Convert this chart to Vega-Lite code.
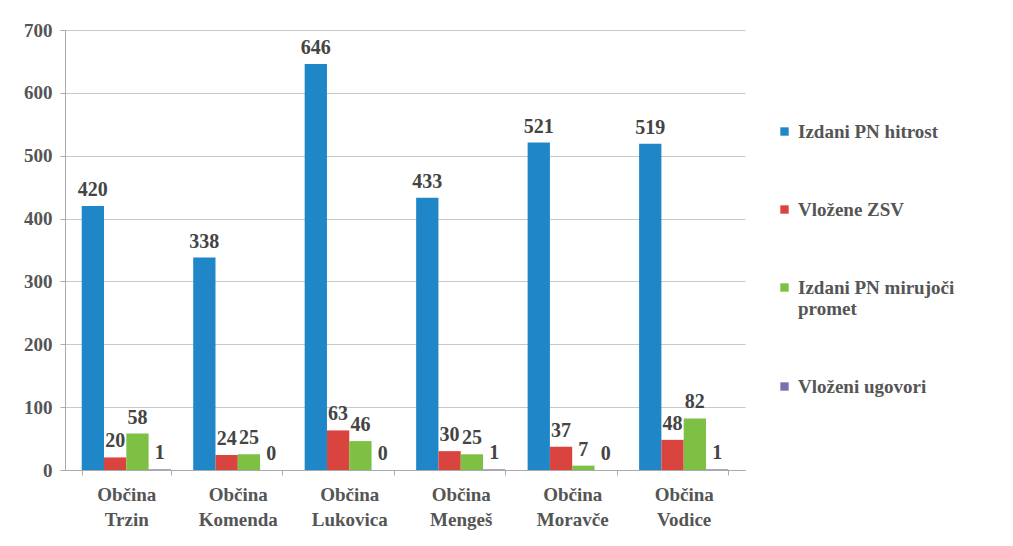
{
  "$schema": "https://vega.github.io/schema/vega-lite/v6.json",
  "width": 680,
  "height": 440,
  "autosize": "none",
  "padding": {"left": 65, "top": 30, "right": 268, "bottom": 76},
  "background": "white",
  "config": {
    "view": {"stroke": null},
    "font": "Times New Roman, Liberation Serif, DejaVu Serif, serif",
    "axis": {"labelFont": "Times New Roman, Liberation Serif, DejaVu Serif, serif", "labelFontWeight": "bold", "labelColor": "#555555"}
  },
  "data": {
    "values": [
      {"obcina": "Občina Trzin", "series": "Izdani PN hitrost", "value": 420},
      {"obcina": "Občina Trzin", "series": "Vložene  ZSV", "value": 20},
      {"obcina": "Občina Trzin", "series": "Izdani PN mirujoči promet", "value": 58},
      {"obcina": "Občina Trzin", "series": "Vloženi ugovori", "value": 1},
      {"obcina": "Občina Komenda", "series": "Izdani PN hitrost", "value": 338},
      {"obcina": "Občina Komenda", "series": "Vložene  ZSV", "value": 24},
      {"obcina": "Občina Komenda", "series": "Izdani PN mirujoči promet", "value": 25},
      {"obcina": "Občina Komenda", "series": "Vloženi ugovori", "value": 0},
      {"obcina": "Občina Lukovica", "series": "Izdani PN hitrost", "value": 646},
      {"obcina": "Občina Lukovica", "series": "Vložene  ZSV", "value": 63},
      {"obcina": "Občina Lukovica", "series": "Izdani PN mirujoči promet", "value": 46},
      {"obcina": "Občina Lukovica", "series": "Vloženi ugovori", "value": 0},
      {"obcina": "Občina Mengeš", "series": "Izdani PN hitrost", "value": 433},
      {"obcina": "Občina Mengeš", "series": "Vložene  ZSV", "value": 30},
      {"obcina": "Občina Mengeš", "series": "Izdani PN mirujoči promet", "value": 25},
      {"obcina": "Občina Mengeš", "series": "Vloženi ugovori", "value": 1},
      {"obcina": "Občina Moravče", "series": "Izdani PN hitrost", "value": 521},
      {"obcina": "Občina Moravče", "series": "Vložene  ZSV", "value": 37},
      {"obcina": "Občina Moravče", "series": "Izdani PN mirujoči promet", "value": 7},
      {"obcina": "Občina Moravče", "series": "Vloženi ugovori", "value": 0},
      {"obcina": "Občina Vodice", "series": "Izdani PN hitrost", "value": 519},
      {"obcina": "Občina Vodice", "series": "Vložene  ZSV", "value": 48},
      {"obcina": "Občina Vodice", "series": "Izdani PN mirujoči promet", "value": 82},
      {"obcina": "Občina Vodice", "series": "Vloženi ugovori", "value": 1}
    ]
  },
  "encoding": {
    "x": {
      "field": "obcina", "type": "nominal", "sort": null, "title": null,
      "scale": {"paddingInner": 0.2, "paddingOuter": 0.15},
      "axis": {"labelAngle": 0, "labelFontSize": 19, "labelExpr": "split(datum.label, ' ')", "labelLineHeight": 25, "domainColor": "#aaaaaa", "tickColor": "#aaaaaa", "tickBand": "extent", "labelPadding": 10}
    },
    "xOffset": {"field": "series", "type": "nominal", "sort": ["Izdani PN hitrost", "Vložene  ZSV", "Izdani PN mirujoči promet", "Vloženi ugovori"]},
    "y": {
      "field": "value", "type": "quantitative", "title": null,
      "scale": {"domain": [0, 700]},
      "axis": {"tickCount": 7, "labelFontSize": 19, "gridColor": "#c8c8c8", "domainColor": "#aaaaaa", "tickColor": "#aaaaaa", "labelPadding": 8}
    }
  },
  "layer": [
    {
      "mark": {"type": "bar"},
      "encoding": {
        "color": {
          "field": "series", "type": "nominal", "title": null,
          "scale": {"domain": ["Izdani PN hitrost", "Vložene  ZSV", "Izdani PN mirujoči promet", "Vloženi ugovori"], "range": ["#1f87c8", "#d9443e", "#7ec043", "#7b6fb0"]},
          "legend": {
            "orient": "none", "legendX": 710, "legendY": 92,
            "symbolType": "square", "symbolSize": 70,
            "labelFont": "Times New Roman, Liberation Serif, DejaVu Serif, serif", "labelFontWeight": "bold", "labelColor": "#555555",
            "labelFontSize": 19, "rowPadding": 58,
            "labelLimit": 300, "labelLineHeight": 26,
            "labelExpr": "datum.label == 'Izdani PN mirujoči promet' ? ['Izdani PN mirujoči', 'promet'] : datum.label"
          }
        }
      }
    },
    {
      "mark": {"type": "text", "dy": -16, "fontSize": 20, "fontWeight": "bold", "color": "#444444", "font": "Times New Roman, Liberation Serif, DejaVu Serif, serif"},
      "encoding": {"text": {"field": "value", "type": "quantitative"}}
    }
  ]
}
